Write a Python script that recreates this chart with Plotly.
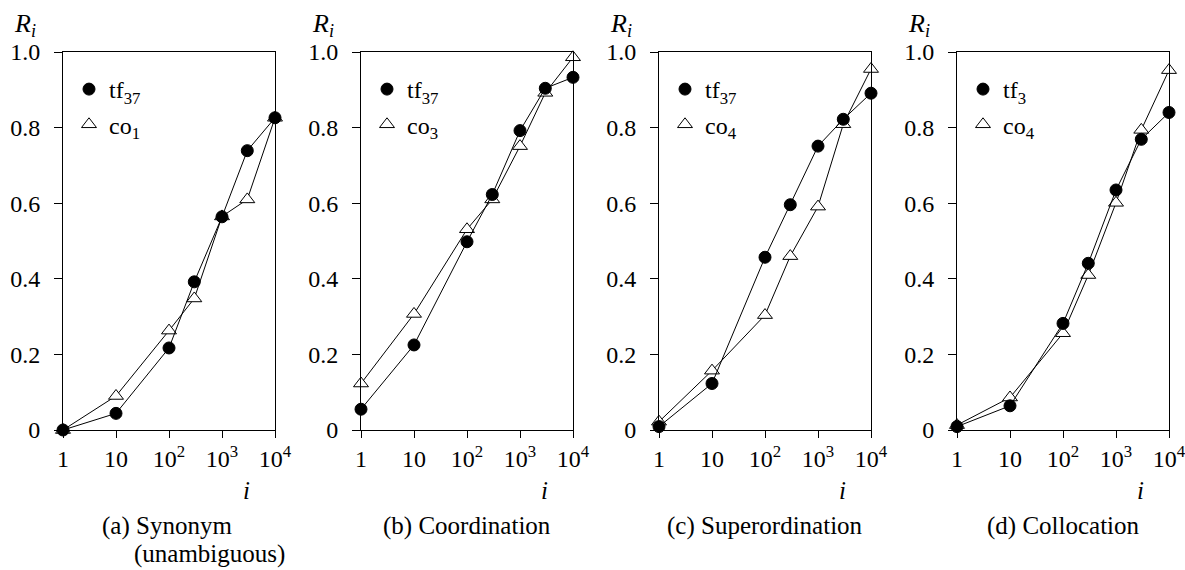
import plotly.graph_objects as go

# ---------------- data ----------------
x_vals = [1, 10, 100, 300, 1000, 3000, 10000]
x_tickvals = [1, 10, 100, 1000, 10000]
x_ticktext = ["1", "10", "10<sup>2</sup>", "10<sup>3</sup>", "10<sup>4</sup>"]
y_tickvals = [0, 0.2, 0.4, 0.6, 0.8, 1.0]
y_ticktext = ["0", "0.2", "0.4", "0.6", "0.8", "1.0"]

tf_a = [0.0, 0.044, 0.217, 0.392, 0.564, 0.739, 0.826]
co_a = [0.0, 0.090, 0.263, 0.348, 0.565, 0.610, 0.826]
tf_b = [0.055, 0.225, 0.498, 0.623, 0.792, 0.904, 0.933]
co_b = [0.123, 0.307, 0.531, 0.610, 0.751, 0.892, 0.986]
tf_c = [0.009, 0.123, 0.457, 0.596, 0.751, 0.822, 0.891]
co_c = [0.022, 0.157, 0.304, 0.460, 0.591, 0.809, 0.955]
tf_d = [0.009, 0.064, 0.282, 0.441, 0.635, 0.769, 0.840]
co_d = [0.013, 0.086, 0.256, 0.410, 0.601, 0.794, 0.952]

tf_names = ["tf<sub>37</sub>", "tf<sub>37</sub>", "tf<sub>37</sub>", "tf<sub>3</sub>"]
co_names = ["co<sub>1</sub>", "co<sub>3</sub>", "co<sub>4</sub>", "co<sub>4</sub>"]
captions = [["(a) Synonym", "(unambiguous)"], ["(b) Coordination"],
            ["(c) Superordination"], ["(d) Collocation"]]

tf_series = [tf_a, tf_b, tf_c, tf_d]
co_series = [co_a, co_b, co_c, co_d]

# ---------------- layout helpers ----------------
W, H = 1185, 570
FONT = "Liberation Serif, Times New Roman, DejaVu Serif, serif"
panel_left = [63, 361, 659, 957]
panel_width = 212
plot_top, plot_bottom = 52, 430


def px(x):
    return x / W


def py(y):
    return 1 - y / H


fig = go.Figure()
annotations = []
layout = {}

for k in range(4):
    sfx = "" if k == 0 else str(k + 1)
    xa, ya = "x" + sfx, "y" + sfx
    lg = "legend" + sfx
    left = panel_left[k]
    right = left + panel_width

    fig.add_trace(go.Scatter(
        x=x_vals, y=co_series[k], mode="lines+markers", xaxis=xa, yaxis=ya,
        line=dict(color="black", width=1), cliponaxis=False, showlegend=False,
        marker=dict(symbol="triangle-up", size=13, color="white",
                    line=dict(color="black", width=1))))
    fig.add_trace(go.Scatter(
        x=x_vals, y=tf_series[k], mode="lines+markers", xaxis=xa, yaxis=ya,
        line=dict(color="black", width=1), cliponaxis=False, showlegend=False,
        marker=dict(symbol="circle", size=12, color="black",
                    line=dict(color="black", width=1))))
    # legend-only entries
    fig.add_trace(go.Scatter(
        x=[None], y=[None], mode="markers", xaxis=xa, yaxis=ya, name=tf_names[k],
        legend=lg, legendgroup="tf" + str(k),
        marker=dict(symbol="circle", size=12, color="black",
                    line=dict(color="black", width=1))))
    fig.add_trace(go.Scatter(
        x=[None], y=[None], mode="markers", xaxis=xa, yaxis=ya, name=co_names[k],
        legend=lg, legendgroup="co" + str(k),
        marker=dict(symbol="triangle-up", size=13, color="white",
                    line=dict(color="black", width=1))))

    layout["xaxis" + sfx] = dict(
        type="log", range=[0, 4], domain=[px(left), px(right)], anchor=ya,
        showline=True, mirror=True, linecolor="black", linewidth=1,
        ticks="outside", ticklen=7, tickcolor="black", tickwidth=1,
        tickvals=x_tickvals, ticktext=x_ticktext, showgrid=False, zeroline=False,
        automargin=False, ticklabeloverflow="allow",
        tickfont=dict(family=FONT, size=24, color="black"))
    layout["yaxis" + sfx] = dict(
        range=[0, 1], domain=[py(plot_bottom), py(plot_top)], anchor=xa,
        showline=True, mirror=True, linecolor="black", linewidth=1,
        ticks="outside", ticklen=8, tickcolor="black", tickwidth=1,
        tickvals=y_tickvals, ticktext=y_ticktext, showgrid=False, zeroline=False,
        ticklabelstandoff=9, automargin=False, ticklabeloverflow="allow",
        tickfont=dict(family=FONT, size=24, color="black"))
    layout[lg] = dict(
        x=px(left + 6), y=py(67), xanchor="left", yanchor="top",
        bgcolor="rgba(0,0,0,0)", borderwidth=0, tracegroupgap=1,
        font=dict(family=FONT, size=24, color="black"))

    annotations.append(dict(
        text="<i>R<sub>i</sub></i>", x=px(left - 38), y=py(25), xref="paper",
        yref="paper", showarrow=False, xanchor="center", yanchor="middle",
        font=dict(family=FONT, size=26, color="black")))
    annotations.append(dict(
        text="<i>i</i>", x=px(right - 29), y=py(490), xref="paper",
        yref="paper", showarrow=False, xanchor="center", yanchor="middle",
        font=dict(family=FONT, size=25, color="black")))
    cap = captions[k]
    if len(cap) == 1:
        annotations.append(dict(
            text=cap[0], x=px((left + right) / 2), y=py(526), xref="paper",
            yref="paper", showarrow=False, xanchor="center", yanchor="middle",
            font=dict(family=FONT, size=25, color="black")))
    else:
        annotations.append(dict(
            text=cap[0], x=px(100), y=py(526), xref="paper",
            yref="paper", showarrow=False, xanchor="left", yanchor="middle",
            font=dict(family=FONT, size=25, color="black")))
        annotations.append(dict(
            text=cap[1], x=px(132), y=py(554), xref="paper",
            yref="paper", showarrow=False, xanchor="left", yanchor="middle",
            font=dict(family=FONT, size=25, color="black")))

fig.update_layout(
    width=W, height=H, margin=dict(l=0, r=0, t=0, b=0, autoexpand=False),
    plot_bgcolor="white", paper_bgcolor="white",
    font=dict(family=FONT, color="black"),
    annotations=annotations, **layout)

fig.write_html(
    "out.html",
    config={"displayModeBar": False},
    post_script="document.body.style.margin='0';document.body.style.overflow='hidden';")
